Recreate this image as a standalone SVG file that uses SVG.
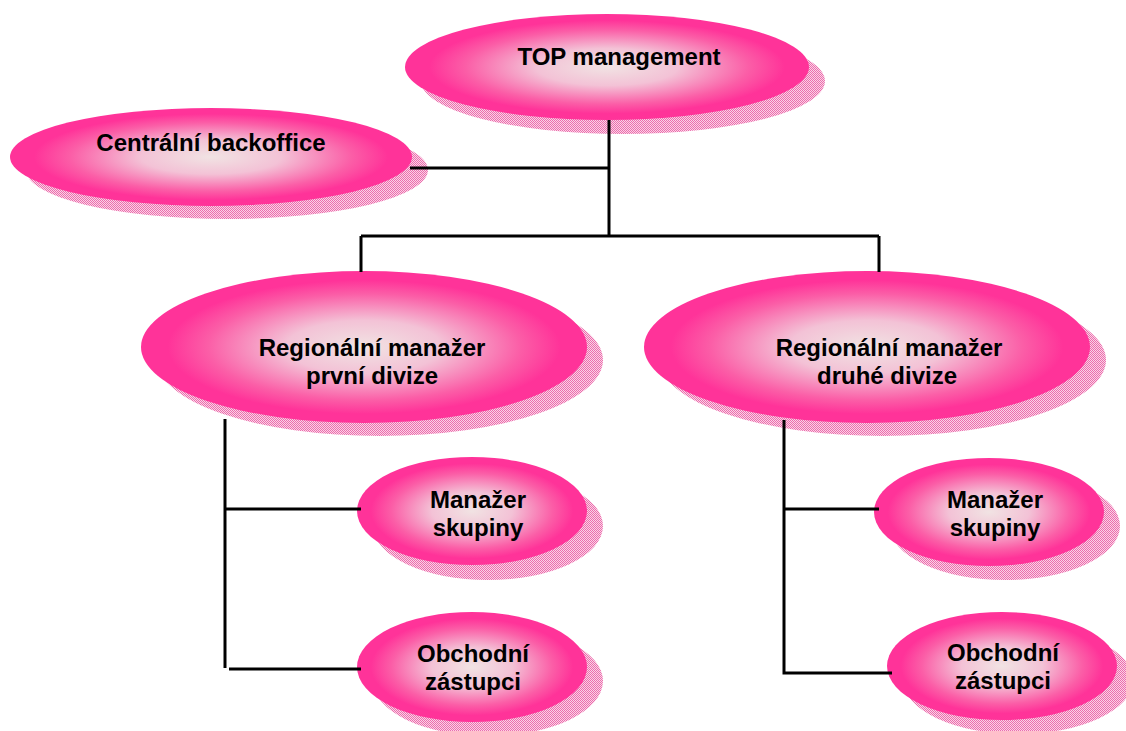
<svg xmlns="http://www.w3.org/2000/svg" width="1126" height="731" viewBox="0 0 1126 731">
  <defs>
    <radialGradient id="pinkFill" cx="0.5" cy="0.5" r="0.5">
      <stop offset="0" stop-color="#f1e3e3"/>
      <stop offset="0.35" stop-color="#f3c2d6"/>
      <stop offset="0.7" stop-color="#fb5ea7"/>
      <stop offset="0.88" stop-color="#ff3399"/>
      <stop offset="1" stop-color="#ff3399"/>
    </radialGradient>
    <pattern id="dither" width="2" height="2" patternUnits="userSpaceOnUse">
      <rect width="2" height="2" fill="#fad3e6"/>
      <rect x="0" y="0" width="1" height="1" fill="#ec6dad"/>
      <rect x="1" y="1" width="1" height="1" fill="#ec6dad"/>
    </pattern>
  </defs>
  <style>
    .shadow { fill: url(#dither); }
    .bubble { fill: url(#pinkFill); }
    .label { font-family: "Liberation Sans", Arial, sans-serif; font-weight: bold; font-size: 24px; fill: #000; text-anchor: middle; }
    .conn { stroke: #000; stroke-width: 3; fill: none; }
  </style>
  <rect width="1126" height="731" fill="#fff"/>

  <g id="top-management">
    <ellipse class="shadow" cx="623" cy="81" rx="202" ry="53"/>
    <ellipse class="bubble" cx="607" cy="67" rx="202" ry="53"/>
    <text class="label" x="619" y="65">TOP management</text>
  </g>

  <g id="centralni-backoffice">
    <ellipse class="shadow" cx="227" cy="170" rx="201" ry="49"/>
    <ellipse class="bubble" cx="211" cy="157" rx="201" ry="49"/>
    <text class="label" x="211" y="151">Centrální backoffice</text>
  </g>

  <g id="regionalni-prvni">
    <ellipse class="shadow" cx="380" cy="360" rx="223" ry="76"/>
    <ellipse class="bubble" cx="364" cy="347" rx="223" ry="76"/>
    <text class="label" x="372" y="356">Regionální manažer</text>
    <text class="label" x="372" y="384">první divize</text>
  </g>

  <g id="regionalni-druha">
    <ellipse class="shadow" cx="883" cy="360" rx="223" ry="76"/>
    <ellipse class="bubble" cx="867" cy="347" rx="223" ry="76"/>
    <text class="label" x="889" y="356">Regionální manažer</text>
    <text class="label" x="887" y="384">druhé divize</text>
  </g>

  <g id="manazer-skupiny-1">
    <ellipse class="shadow" cx="488" cy="526" rx="115" ry="54"/>
    <ellipse class="bubble" cx="472" cy="511" rx="115" ry="54"/>
    <text class="label" x="478" y="508">Manažer</text>
    <text class="label" x="478" y="536">skupiny</text>
  </g>

  <g id="obchodni-zastupci-1">
    <ellipse class="shadow" cx="488" cy="681" rx="115" ry="55"/>
    <ellipse class="bubble" cx="472" cy="667" rx="115" ry="55"/>
    <text class="label" x="473" y="662">Obchodní</text>
    <text class="label" x="473" y="690">zástupci</text>
  </g>

  <g id="manazer-skupiny-2">
    <ellipse class="shadow" cx="1005" cy="526" rx="115" ry="54"/>
    <ellipse class="bubble" cx="989" cy="512" rx="115" ry="54"/>
    <text class="label" x="995" y="508">Manažer</text>
    <text class="label" x="995" y="536">skupiny</text>
  </g>

  <g id="obchodni-zastupci-2">
    <ellipse class="shadow" cx="1018" cy="680" rx="115" ry="54"/>
    <ellipse class="bubble" cx="1002" cy="666" rx="115" ry="54"/>
    <text class="label" x="1003" y="661">Obchodní</text>
    <text class="label" x="1003" y="689">zástupci</text>
  </g>

  <g id="connectors">
    <path class="conn" d="M609 120 V236"/>
    <path class="conn" d="M410 168 H609"/>
    <path class="conn" d="M361 236 H879"/>
    <path class="conn" d="M361 236 V272"/>
    <path class="conn" d="M879 236 V272"/>
    <path class="conn" d="M225 419 V668"/>
    <path class="conn" d="M225 509 H361"/>
    <path class="conn" d="M229 669 H361"/>
    <path class="conn" d="M784 420 V673 H892"/>
    <path class="conn" d="M784 509 H879"/>
  </g>
</svg>
